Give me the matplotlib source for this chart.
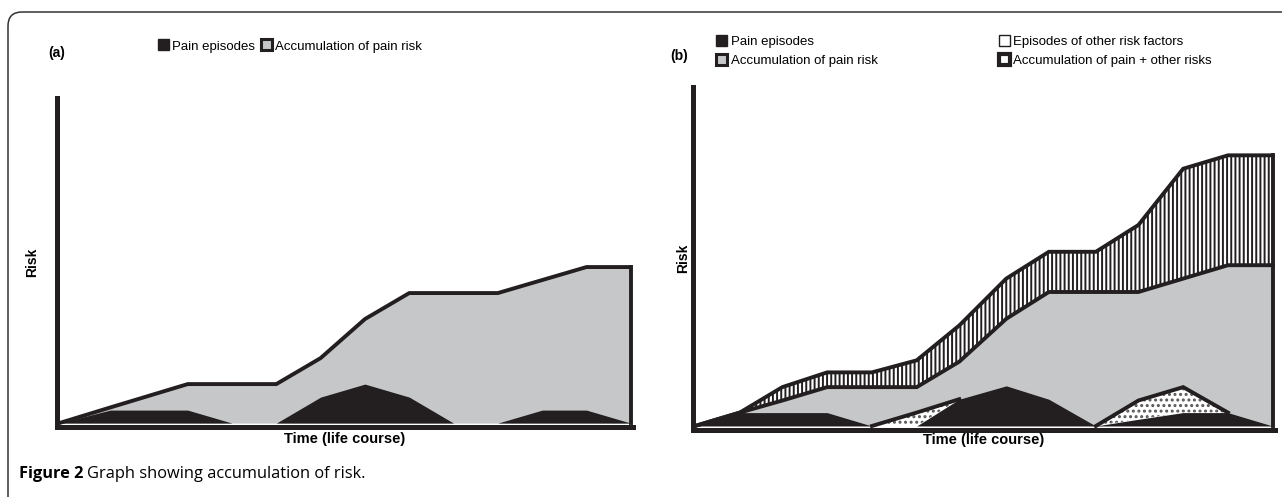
import numpy as np
import matplotlib
matplotlib.use("Agg")
import matplotlib.pyplot as plt
from matplotlib.patches import Patch, FancyBboxPatch
from matplotlib.transforms import IdentityTransform

# ---------------- data ----------------
# Panel (a)
time_a = [0, 1.15, 2.9, 3.9, 4.9, 5.9, 6.9, 7.9, 8.9, 9.9, 10.9, 11.9, 12.9]
pain_a = [0, 1, 1, 0, 0, 2, 3, 2, 0, 0, 1, 1, 0]
accum_pain_a = [0, 1.2, 3, 3, 3, 5, 8, 10, 10, 10, 11, 12, 12]

# Panel (b)
time_b = [0, 1.0, 1.95, 2.95, 3.95, 4.95, 5.9, 6.95, 7.9, 8.95, 9.9, 10.9, 11.9, 12.9]
pain_b = [0, 1, 1, 1, 0, 0, 2, 3, 2, 0, 0.5, 1, 1, 0]
other_b = [0, 0, 0, 0, 0, 1, 0, 0, 0, 0, 1.4, 1.9, 0, 0]
accum_pain_b = [0, 1, 1.9, 2.9, 2.9, 2.9, 4.8, 8, 10, 10, 10, 11, 12, 12]
accum_total_b = [0, 1, 2.9, 4, 4, 4.9, 7.5, 11, 13, 13, 15, 19.2, 20.2, 20.2]

labels_a = ["Pain episodes", "Accumulation of pain risk"]
labels_b = ["Pain episodes", "Accumulation of pain risk",
            "Episodes of other risk factors", "Accumulation of pain + other risks"]

# ---------------- style ----------------
BLACK = "#231f20"
GRAY = "#c6c7c9"
LW = 2.8
plt.rcParams["font.family"] = ["Liberation Sans", "DejaVu Sans"]
plt.rcParams["hatch.linewidth"] = 1.4

W, H = 1282, 497
fig = plt.figure(figsize=(W / 100, H / 100), dpi=100)


def px_axes(left, right, top, bottom):
    return fig.add_axes([left / W, 1 - bottom / H, (right - left) / W, (bottom - top) / H])


def style_axes(ax):
    for s in ("top", "right"):
        ax.spines[s].set_visible(False)
    for s in ("left", "bottom"):
        ax.spines[s].set_linewidth(3.6)
        ax.spines[s].set_color(BLACK)
        ax.spines[s].set_capstyle("projecting")
    ax.set_xticks([])
    ax.set_yticks([])
    ax.set_facecolor("none")


# ---------------- panel (a) ----------------
ax = px_axes(57, 633, 98, 427)
style_axes(ax)
ta = np.array(time_a)
pa = np.array(pain_a)
aa = np.array(accum_pain_a)
ax.fill_between(ta, 0, aa, color=GRAY, linewidth=0)
ax.fill_between(ta, 0, pa, color=BLACK, linewidth=0)
ax.plot(ta, aa, color=BLACK, lw=LW, solid_joinstyle="miter")
ax.plot([ta[-1], ta[-1]], [pa[-1], aa[-1]], color=BLACK, lw=LW, solid_capstyle="projecting")
ax.set_xlim(-0.05, 12.95)
ax.set_ylim(-0.3, 25)
ax.set_ylabel("Risk", fontweight="bold", fontsize=10)
ax.yaxis.set_label_coords((32 - 57) / 576, 0.5)
ax.yaxis.label.set_va("center")
ax.set_xlabel("Time (life course)", fontweight="bold", fontsize=10.5)
ax.xaxis.set_label_coords(0.5, (427 - 439) / 329)
ax.xaxis.label.set_va("center")

# ---------------- panel (b) ----------------
bx = px_axes(693, 1275, 87, 430)
style_axes(bx)
tb = np.array(time_b)
pb = np.array(pain_b)
ob = np.array(other_b)
apb = np.array(accum_pain_b)
atb = np.array(accum_total_b)
stack = pb + ob
bx.fill_between(tb, apb, atb, facecolor="white", edgecolor=BLACK, hatch="||||", linewidth=0)
bx.fill_between(tb, stack, apb, color=GRAY, linewidth=0)
bx.fill_between(tb, pb, stack, facecolor="white", edgecolor="#555555", hatch="...", linewidth=0)
bx.fill_between(tb, 0, pb, color=BLACK, linewidth=0)
bx.plot(tb, atb, color=BLACK, lw=LW, solid_joinstyle="miter")
bx.plot(tb, apb, color=BLACK, lw=LW, solid_joinstyle="miter")
near = (ob > 0) | np.roll(ob > 0, 1) | np.roll(ob > 0, -1)
bx.plot(tb, np.ma.masked_where(~near, stack), color=BLACK, lw=LW, solid_joinstyle="miter")
bx.plot([tb[-1], tb[-1]], [pb[-1], atb[-1]], color=BLACK, lw=LW, solid_capstyle="projecting")
bx.set_xlim(-0.045, 12.95)
bx.set_ylim(-0.3, 25.3)
bx.set_ylabel("Risk", fontweight="bold", fontsize=10)
bx.yaxis.set_label_coords((683 - 693) / 582, 0.5)
bx.yaxis.label.set_va("center")
bx.set_xlabel("Time (life course)", fontweight="bold", fontsize=10.5)
bx.xaxis.set_label_coords(0.5, (430 - 440) / 343)
bx.xaxis.label.set_va("center")

# ---------------- legends ----------------
h_pain = Patch(facecolor=BLACK, edgecolor=BLACK, linewidth=1)
h_accum = Patch(facecolor=GRAY, edgecolor=BLACK, linewidth=2.2)
h_other = Patch(facecolor="white", edgecolor=BLACK, linewidth=1)
h_total = Patch(facecolor="white", edgecolor=BLACK, linewidth=3)

common = dict(frameon=False, fontsize=9.5, handlelength=0.85, handleheight=0.9,
              handletextpad=0.25, borderpad=0, borderaxespad=0)
fig.legend([h_pain, h_accum], labels_a, loc="center", ncol=2,
           bbox_to_anchor=(290 / W, 1 - 46 / H), columnspacing=0.4, **common)
fig.legend([h_pain, h_accum, h_other, h_total], labels_b, loc="upper left", ncol=2,
           bbox_to_anchor=(716 / W, 1 - 35 / H), columnspacing=9.2,
           labelspacing=0.48, **common)

fig.text(48 / W, 1 - 53 / H, "(a)", fontweight="bold", fontsize=10, va="center", ha="left")
fig.text(670 / W, 1 - 56 / H, "(b)", fontweight="bold", fontsize=10, va="center", ha="left")

# ---------------- frame and caption ----------------
frame = FancyBboxPatch((8, -40), 1400, (H - 12) + 40, boxstyle="round,pad=0,rounding_size=14",
                       transform=IdentityTransform(), facecolor="none",
                       edgecolor="#333333", linewidth=1.1, clip_on=False)
fig.add_artist(frame)

cap1 = fig.text(19 / W, 1 - 474 / H, "Figure 2", fontweight="bold", fontsize=11.8,
                family=["Open Sans", "DejaVu Sans"], va="center", ha="left")
fig.canvas.draw()
bb = cap1.get_window_extent()
fig.text((bb.x1 + 4) / W, 1 - 474 / H, "Graph showing accumulation of risk.", fontsize=11.8,
         family=["Open Sans", "DejaVu Sans"], va="center", ha="left")

fig.savefig("out.png", dpi=100)
